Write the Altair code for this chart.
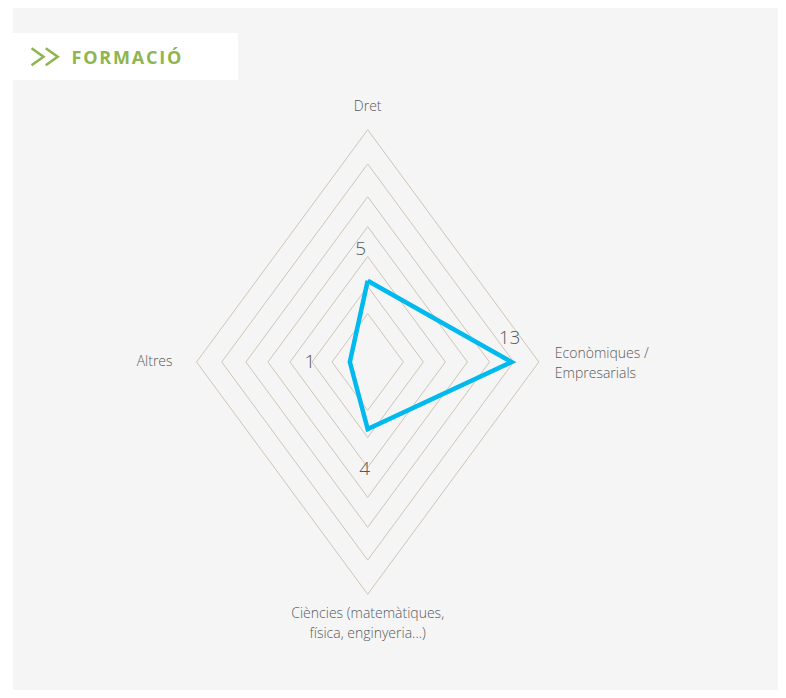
import math
import altair as alt
import pandas as pd

# ---- data ----
categories = ["Dret", "Econòmiques /\nEmpresarials",
              "Ciències (matemàtiques,\nfísica, enginyeria...)", "Altres"]
values = [5, 13, 4, 1]
value_labels = ["5", "13", "4", "1"]
ring_levels = [2.7, 4.6, 6.7, 8.8, 10.9, 13.2, 15.6]
title_text = "FORMACIÓ"

# ---- geometry / style ----
radial_offset = 0.7          # radius of value 0 in value units
angles_deg = [0, 90, 180, 270]
W, H = 770, 682
cx_px, cy_px = 359.7, 354.0  # centre of the radar inside the plot
kx, ky = 10.5, 14.25          # pixels per radial unit (x, y)
val_dx = [-7, -2, -3, -40]
val_dy = [-32, -24, 40, 0]
cat_dx = [0, 16, 0, -24]
cat_dy = [-23, -8, 20, 0]
cat_align = ["center", "left", "center", "right"]

x_dom = [-cx_px / kx, (W - cx_px) / kx]
y_dom = [-(H - cy_px) / ky, cy_px / ky]
xs = alt.Scale(domain=x_dom, nice=False, zero=False)
ys = alt.Scale(domain=y_dom, nice=False, zero=False)


def polar(r, a):
    t = math.radians(a)
    return r * math.sin(t), r * math.cos(t)


ring_rows = []
for lvl in ring_levels:
    for i in range(5):
        x, y = polar(lvl + radial_offset, angles_deg[i % 4])
        ring_rows.append({"ring": lvl, "i": i, "x": x, "y": y})
rings_df = pd.DataFrame(ring_rows)

poly_rows = []
for i in range(5):
    k = i % 4
    x, y = polar(values[k] + radial_offset, angles_deg[k])
    poly_rows.append({"i": i, "x": x, "y": y, "cat": categories[k]})
poly_df = pd.DataFrame(poly_rows)

vl_rows = []
for k in range(4):
    x, y = polar(values[k] + radial_offset, angles_deg[k])
    vl_rows.append({"x": x + val_dx[k] / kx, "y": y - val_dy[k] / ky,
                    "t": value_labels[k]})
vl_df = pd.DataFrame(vl_rows)

cat_rows = []
outer = ring_levels[-1] + radial_offset
for k in range(4):
    x, y = polar(outer, angles_deg[k])
    cat_rows.append({"x": x + cat_dx[k] / kx, "y": y - cat_dy[k] / ky,
                     "t": categories[k], "align": cat_align[k]})
cat_df = pd.DataFrame(cat_rows)

FONT = "Open Sans"
TXT = "#595959"

panel = alt.Chart(pd.DataFrame({"a": [0]})).mark_rect(color="#f5f5f5").encode(
    x=alt.value(5), x2=alt.value(W), y=alt.value(0), y2=alt.value(H))
title_box = alt.Chart(pd.DataFrame({"a": [0]})).mark_rect(color="#ffffff").encode(
    x=alt.value(5), x2=alt.value(230), y=alt.value(25), y2=alt.value(72))
chev_df = pd.DataFrame({"px": [29.5, 43.7]})
chevrons = alt.Chart(chev_df).mark_point(
    shape="M-0.7,-1L0.7,0L-0.7,1", filled=False, size=290, strokeWidth=2.6,
    color="#8fb54f", opacity=1, strokeJoin="miter"
).encode(x=alt.X("px:Q", scale=None), y=alt.value(48.7))
spaced_title = "\u200a".join(title_text)
title = alt.Chart(pd.DataFrame({"t": [spaced_title]})).mark_text(
    font=FONT, fontSize=18, fontWeight="bold", color="#8fb54f",
    align="left", baseline="alphabetic"
).encode(text="t:N", x=alt.value(63.5), y=alt.value(56))

rings = alt.Chart(rings_df).mark_line(
    color="#cfc5b5", strokeWidth=1, strokeJoin="miter"
).encode(
    x=alt.X("x:Q", scale=xs, axis=None),
    y=alt.Y("y:Q", scale=ys, axis=None),
    detail="ring:N", order="i:Q")

poly = alt.Chart(poly_df).mark_line(
    color="#00b9ee", strokeWidth=4.5, strokeJoin="miter"
).encode(
    x=alt.X("x:Q", scale=xs, axis=None),
    y=alt.Y("y:Q", scale=ys, axis=None),
    order="i:Q")

vlabels = alt.Chart(vl_df).mark_text(
    font=FONT, fontSize=19, fontWeight=300, color=TXT, baseline="middle"
).encode(
    x=alt.X("x:Q", scale=xs, axis=None),
    y=alt.Y("y:Q", scale=ys, axis=None), text="t:N")

cat_layers = []
for al in ["center", "left", "right"]:
    cat_layers.append(
        alt.Chart(cat_df).transform_filter(alt.datum.align == al).mark_text(
            font=FONT, fontSize=14, fontWeight=300, color=TXT, align=al,
            baseline="middle", lineBreak="\n", lineHeight=19.5
        ).encode(
            x=alt.X("x:Q", scale=xs, axis=None),
            y=alt.Y("y:Q", scale=ys, axis=None), text="t:N"))

chart = alt.layer(panel, title_box, chevrons, title, rings, poly, vlabels,
                  *cat_layers).properties(
    width=W, height=H, padding=0, background="#ffffff",
    autosize=alt.AutoSizeParams(type="none")
).configure_view(stroke=None)

chart.save("out.html", embed_options={"renderer": "svg", "actions": False})
